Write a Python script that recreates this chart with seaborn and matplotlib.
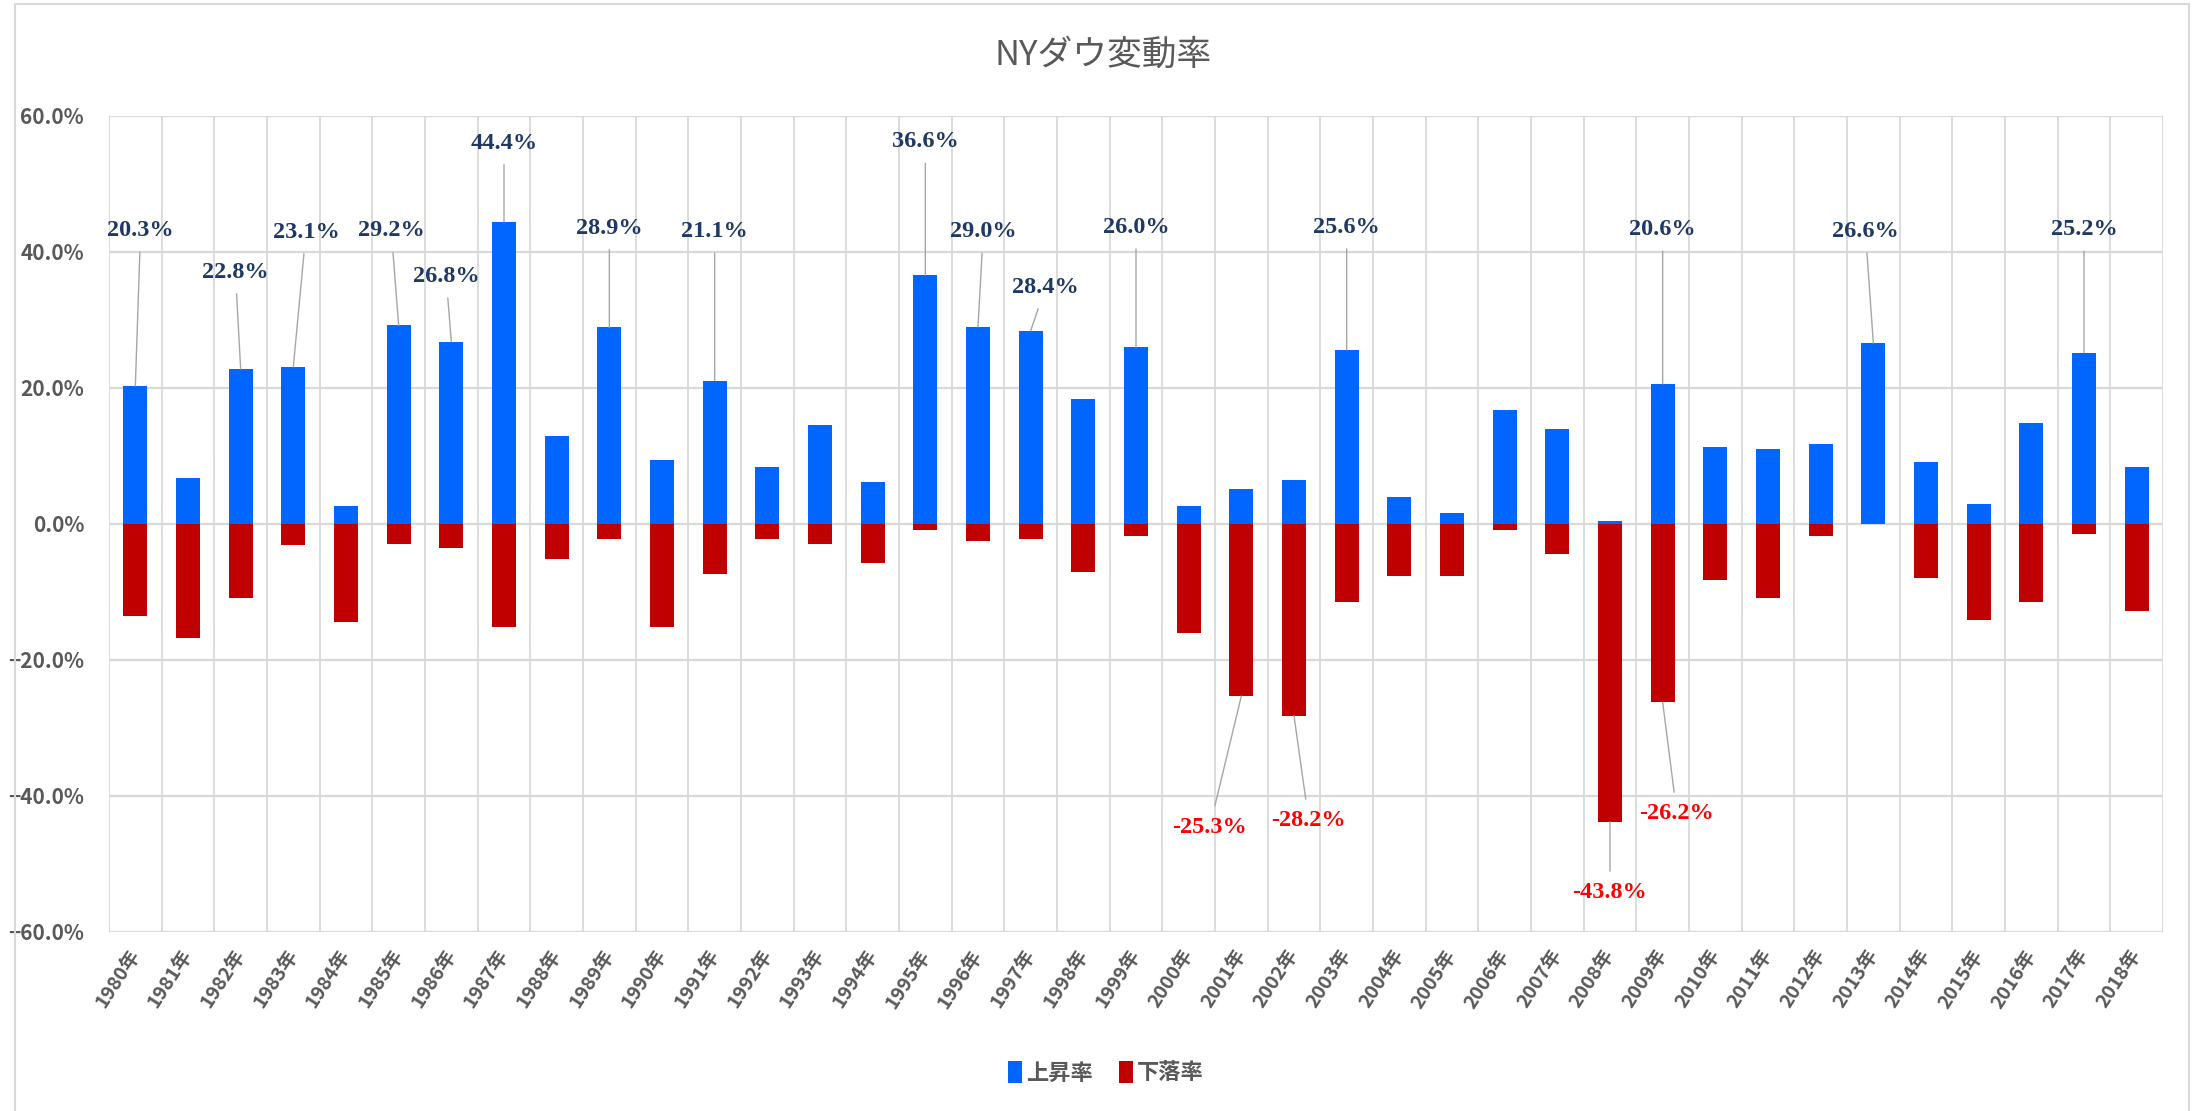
import matplotlib
matplotlib.use("Agg")
import matplotlib.pyplot as plt
from matplotlib.patches import Rectangle, Patch
from matplotlib.ticker import FixedLocator, PercentFormatter
import seaborn as sns
import pandas as pd
import numpy as np

# データ (NYダウ 年間の上昇率 / 下落率, %)
YEARS = [f"{y}年" for y in range(1980, 2019)]
UP_RATE = [20.3, 6.8, 22.8, 23.1, 2.6, 29.2, 26.8, 44.4, 12.9, 28.9,
           9.4, 21.1, 8.4, 14.5, 6.2, 36.6, 29.0, 28.4, 18.4, 26.0,
           2.6, 5.2, 6.5, 25.6, 3.9, 1.6, 16.8, 13.9, 0.4, 20.6,
           11.3, 11.0, 11.7, 26.6, 9.1, 2.9, 14.9, 25.2, 8.4]
DOWN_RATE = [-13.5, -16.7, -10.9, -3.1, -14.4, -2.9, -3.5, -15.1, -5.1, -2.2,
             -15.1, -7.3, -2.2, -2.9, -5.7, -0.9, -2.5, -2.2, -7.0, -1.8,
             -16.1, -25.3, -28.2, -11.5, -7.7, -7.7, -0.9, -4.4, -43.8, -26.2,
             -8.3, -10.9, -1.8, 0.0, -8.0, -14.1, -11.5, -1.5, -12.8]
SERIES = ["上昇率", "下落率"]

# ラベルを付ける年
UP_LABEL_YEARS = [1980, 1982, 1983, 1985, 1986, 1987, 1989, 1991, 1995,
                  1996, 1997, 1999, 2003, 2009, 2013, 2017]
DOWN_LABEL_YEARS = [2001, 2002, 2008, 2009]

# ラベルの置き場所 (x のずれ, y 位置)
UP_LABEL_POS = [(0.1, 43.1), (-0.1, 37.0), (0.24, 42.9), (-0.14, 43.1), (-0.1, 36.4),
                (0.0, 56.0), (0.0, 43.5), (0.0, 43.0), (0.0, 56.2), (0.1, 43.0),
                (0.28, 34.8), (0.0, 43.6), (0.0, 43.6), (0.0, 43.3), (-0.15, 43.0),
                (0.0, 43.3)]
DOWN_LABEL_POS = [(-0.6, -44.6), (0.28, -43.6), (0.0, -54.2), (0.27, -42.6)]

BLUE = "#0066FF"
RED = "#C00000"
GRAY = "#595959"
GRID = "#D9D9D9"

sns.set_theme(style="white")
plt.rcParams["font.family"] = ["Liberation Sans Narrow", "Noto Sans CJK JP", "DejaVu Sans"]

df = pd.DataFrame({
    "年": YEARS * 2,
    "率": UP_RATE + DOWN_RATE,
    "系列": [SERIES[0]] * len(YEARS) + [SERIES[1]] * len(YEARS),
})

fig = plt.figure(figsize=(21.99, 11.11), dpi=100)
ax = fig.add_axes([109 / 2199, 1 - 932 / 1111, (2163 - 109) / 2199, (932 - 116) / 1111])

sns.barplot(data=df, x="年", y="率", hue="系列", order=YEARS, hue_order=SERIES,
            palette=[BLUE, RED], saturation=1, dodge=False, width=0.45, linewidth=0,
            legend=False, ax=ax)

ax.set_ylim(-60, 60)
ax.set_xlim(-0.5, len(YEARS) - 0.5)
ax.yaxis.set_major_locator(FixedLocator(np.arange(-60, 61, 20)))
ax.yaxis.set_major_formatter(PercentFormatter(decimals=1))
ax.xaxis.set_minor_locator(FixedLocator(np.arange(-0.5, len(YEARS), 1)))
ax.grid(axis="y", which="major", color=GRID, lw=1.6)
ax.grid(axis="x", which="minor", color=GRID, lw=1.3)
ax.grid(axis="x", which="major", visible=False)
ax.set_axisbelow(True)
for s in ax.spines.values():
    s.set_visible(False)
ax.set_xlabel("")
ax.set_ylabel("")
ax.tick_params(axis="both", which="both", length=0)
ax.tick_params(axis="y", pad=18, labelsize=15, labelcolor=GRAY)
ax.tick_params(axis="x", pad=14, labelsize=14, labelcolor=GRAY)
for t in ax.get_yticklabels():
    t.set_fontweight("bold")
for t in ax.get_xticklabels():
    t.set_rotation(57)
    t.set_ha("right")
    t.set_va("center")
    t.set_rotation_mode("anchor")
    t.set_fontweight("bold")

year_nums = list(range(1980, 2019))

def put_label(year, value, dx, ly, color):
    i = year_nums.index(year)
    ax.annotate(f"{value:.1f}%", xy=(i, value), xytext=(i + dx, ly),
                ha="center", va="center", fontsize=17.5, fontweight="bold",
                family=["Liberation Serif", "DejaVu Serif"], color=color,
                bbox=dict(boxstyle="square,pad=0.45", fc="none", ec="none"),
                arrowprops=dict(arrowstyle="-", color="#A6A6A6", lw=1.0,
                                shrinkA=0, shrinkB=0))

for yr, (dx, ly) in zip(UP_LABEL_YEARS, UP_LABEL_POS):
    put_label(yr, UP_RATE[year_nums.index(yr)], dx, ly, "#1F3864")
for yr, (dx, ly) in zip(DOWN_LABEL_YEARS, DOWN_LABEL_POS):
    put_label(yr, DOWN_RATE[year_nums.index(yr)], dx, ly, "#FF0000")

fig.text(0.5016, 1 - 55 / 1111, "NYダウ変動率", ha="center", va="center",
         fontsize=25, color=GRAY, family=["Noto Sans CJK JP", "DejaVu Sans"])

handles = [Patch(facecolor=BLUE, edgecolor="none"), Patch(facecolor=RED, edgecolor="none")]
leg = fig.legend(handles, SERIES, loc="center", bbox_to_anchor=(0.503, 1 - 1073 / 1111),
                 ncol=2, frameon=False, handlelength=0.6, handleheight=1.1,
                 handletextpad=0.2, columnspacing=1.2,
                 prop={"family": ["Noto Sans CJK JP"], "size": 16, "weight": "bold"})
for t in leg.get_texts():
    t.set_color(GRAY)

# グラフ全体の枠
fig.patches.append(Rectangle((15 / 2199, -0.01), (2189 - 15) / 2199, 1.01 - 4 / 1111,
                             transform=fig.transFigure, fill=False,
                             edgecolor=GRID, lw=1.5))

fig.savefig("out.png", dpi=100)
